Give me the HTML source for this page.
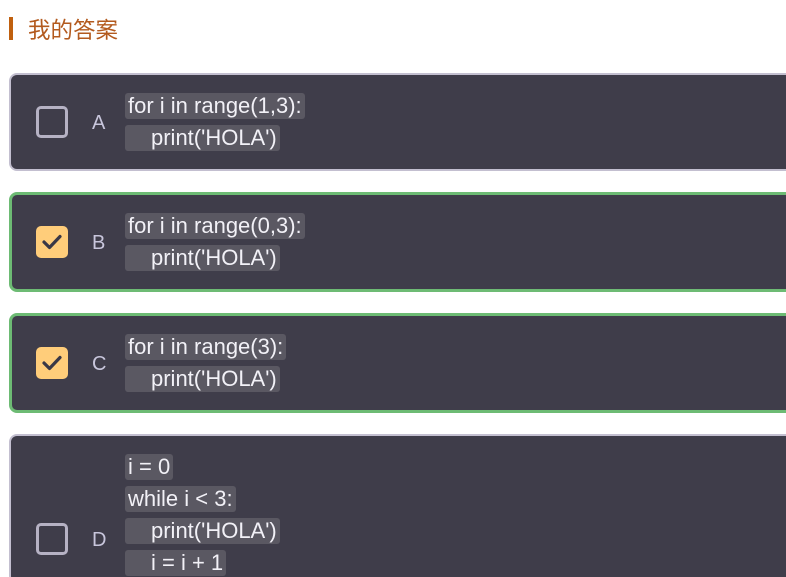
<!DOCTYPE html>
<html><head><meta charset="utf-8"><style>
*{margin:0;padding:0;box-sizing:border-box}
html,body{width:786px;height:577px;overflow:hidden}
body{background:#fff;position:relative;font-family:"Liberation Sans","Noto Sans CJK SC",sans-serif}
.bar{position:absolute;left:9px;top:17px;width:4px;height:23px;background:#c0600f}
.title{position:absolute;left:28px;top:17px;font-size:22.5px;color:#b35a1e;line-height:28px}
.card{position:absolute;left:9px;width:800px;background:#3f3d4a;border:2px solid #c3bfd0;border-radius:8px}
.card.ok{border:3px solid #6dbb74}
.cb{position:absolute;left:36px;width:32px;height:32px;border:3px solid #b6b2c4;border-radius:5px}
.cb.on{background:#ffcd7a;border-color:#ffcd7a}
.lt{position:absolute;left:92px;font-size:20px;color:#c8c6dc;line-height:24px}
.ln{position:absolute;left:125px;height:26px;background:#5a5862;border-radius:3px;color:#f2f1f7;font-size:22px;line-height:26px;padding:0 3px;white-space:pre}
</style></head><body>
<div class="bar"></div><div class="title">我的答案</div>

<div class="card" style="top:73px;height:98px"></div>
<div class="cb" style="top:106px"></div><div class="lt" style="top:111px">A</div>
<div class="ln" style="top:93px">for i in range(1,3):</div>
<div class="ln" style="top:125px;padding-left:26px">print('HOLA')</div>

<div class="card ok" style="top:192px;height:100px"></div>
<div class="cb on" style="top:226px"><svg width="26" height="26" viewBox="0 0 26 26" style="position:absolute;left:0;top:0"><path d="M5 13 L10.5 18.5 L21 7.5" stroke="#3a3846" stroke-width="3.2" fill="none" stroke-linecap="round" stroke-linejoin="round"/></svg></div>
<div class="lt" style="top:231px">B</div>
<div class="ln" style="top:213px">for i in range(0,3):</div>
<div class="ln" style="top:245px;padding-left:26px">print('HOLA')</div>

<div class="card ok" style="top:313px;height:100px"></div>
<div class="cb on" style="top:347px"><svg width="26" height="26" viewBox="0 0 26 26" style="position:absolute;left:0;top:0"><path d="M5 13 L10.5 18.5 L21 7.5" stroke="#3a3846" stroke-width="3.2" fill="none" stroke-linecap="round" stroke-linejoin="round"/></svg></div>
<div class="lt" style="top:352px">C</div>
<div class="ln" style="top:334px">for i in range(3):</div>
<div class="ln" style="top:366px;padding-left:26px">print('HOLA')</div>

<div class="card" style="top:434px;height:150px"></div>
<div class="cb" style="top:523px"></div><div class="lt" style="top:528px">D</div>
<div class="ln" style="top:454px">i = 0</div>
<div class="ln" style="top:486px">while i &lt; 3:</div>
<div class="ln" style="top:518px;padding-left:26px">print('HOLA')</div>
<div class="ln" style="top:550px;padding-left:26px">i = i + 1</div>
</body></html>
